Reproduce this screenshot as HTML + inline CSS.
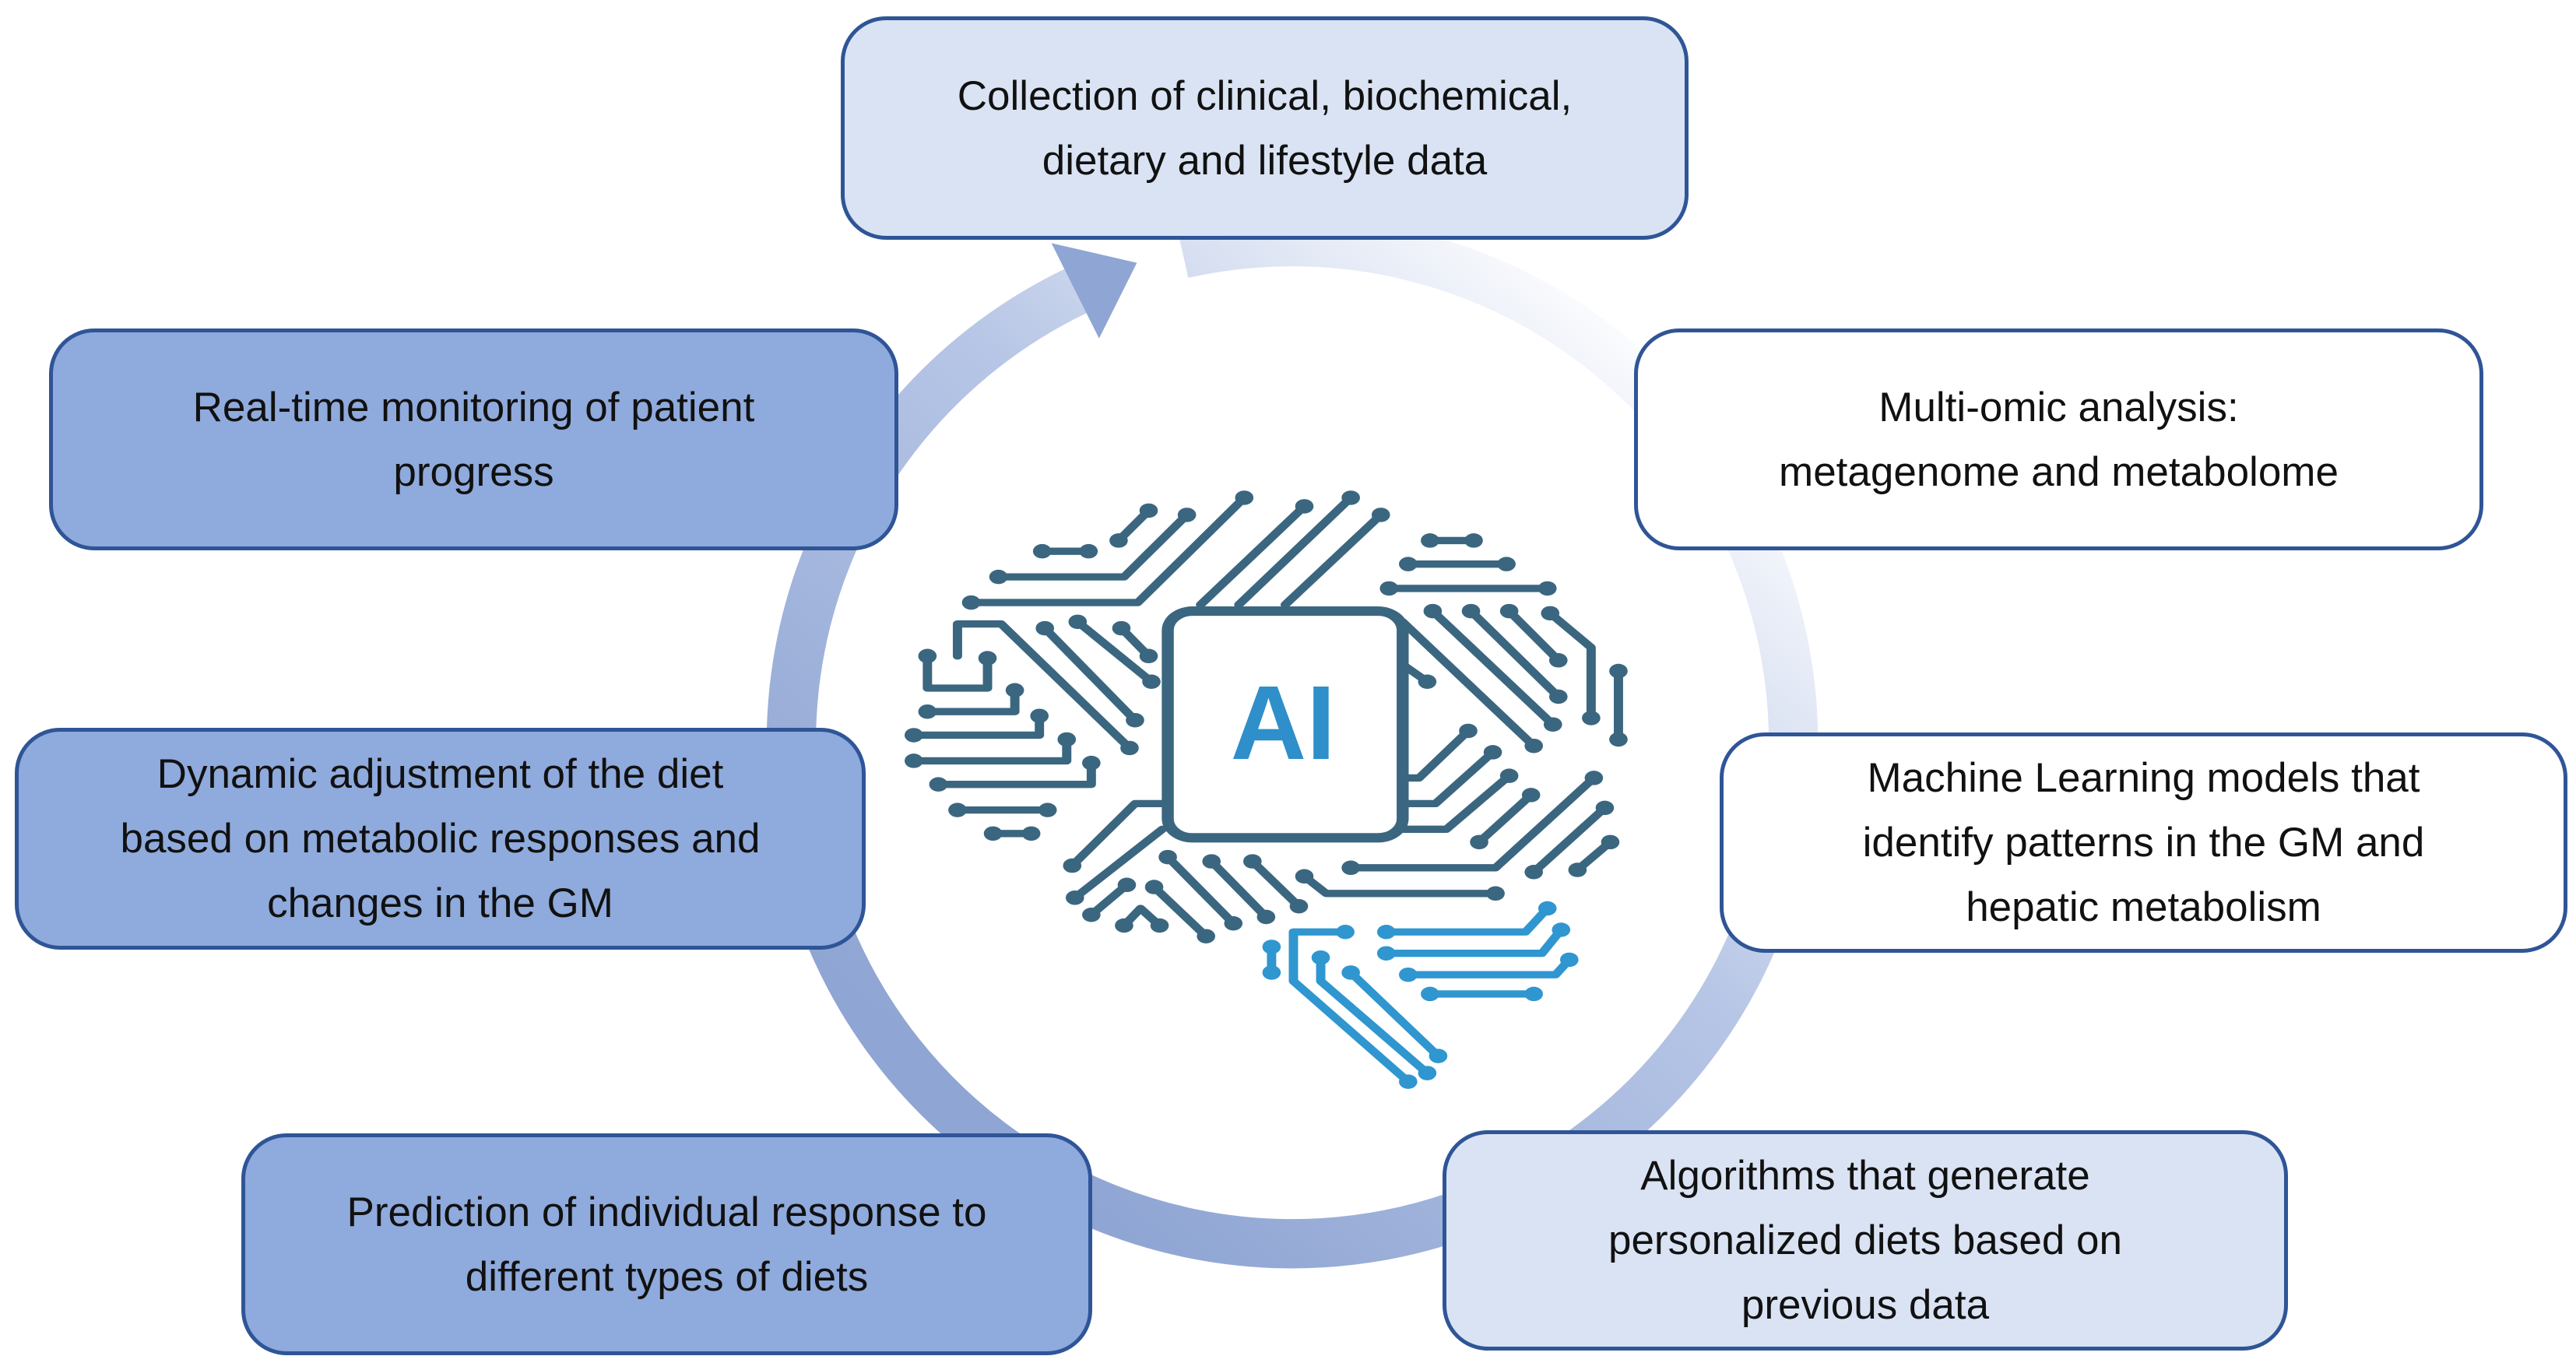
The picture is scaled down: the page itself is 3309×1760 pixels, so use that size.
<!DOCTYPE html>
<html><head><meta charset="utf-8"><style>
html,body{margin:0;padding:0;background:#fff;}
#c{position:relative;width:3309px;height:1760px;overflow:hidden;background:#fff;}
svg.bg{position:absolute;left:0;top:0;}
.b{position:absolute;box-sizing:border-box;border:5px solid #2f5597;border-radius:58px;display:flex;align-items:center;justify-content:center;text-align:center;font-family:"Liberation Sans",sans-serif;font-size:53px;line-height:83px;color:#111;}
.l{background:#dae3f3;}.w{background:#fff;}.d{background:#8faadc;}
</style></head><body><div id="c">
<svg class="bg" width="3309" height="1760" viewBox="0 0 1568 834" preserveAspectRatio="none">
<defs>
<linearGradient id="g" gradientUnits="userSpaceOnUse" x1="980" y1="170" x2="560" y2="640">
<stop offset="0" stop-color="#ffffff"/><stop offset="0.45" stop-color="#b7c6e6"/><stop offset="1" stop-color="#8fa5d3"/></linearGradient>
<marker id="m" viewBox="-10 -10 20 20" markerWidth="2.2" markerHeight="2.2" refX="0" refY="0"><circle r="9" fill="#3b6680"/></marker>
<marker id="mb" viewBox="-10 -10 20 20" markerWidth="2.2" markerHeight="2.2" refX="0" refY="0"><circle r="9" fill="#2f96d0"/></marker>
</defs>
<path d="M 720 154.5 A 305 305 0 1 1 655 177" fill="none" stroke="url(#g)" stroke-width="30"/>
<polygon points="640,148 692,160 669,206" fill="#8fa5d3"/>
<g transform="translate(521.3,290) scale(0.3325,0.2604)" fill="none" stroke-linecap="round" stroke-linejoin="round">
<g stroke="#3b6680" stroke-width="17" marker-start="url(#m)" marker-end="url(#m)">
<polyline points="340,175 425,175"/>
<polyline points="480,150 535,80"/>
<polyline points="260,235 490,235 605,90"/>
<polyline points="210,295 515,295 710,50"/>
<polyline points="1050,150 1130,150"/>
<polyline points="1010,205 1190,205"/>
<polyline points="975,262 1265,262"/>
<polyline points="1055,315 1275,580"/>
<polyline points="1125,315 1285,515"/>
<polyline points="1195,315 1285,430"/>
<polyline points="1270,320 1345,400 1345,565"/>
<polyline points="1395,455 1395,615"/>
<polyline points="1140,855 1235,745"/>
<polyline points="905,915 1170,915 1350,705"/>
<polyline points="1240,925 1370,775"/>
<polyline points="1320,920 1380,855"/>
<polyline points="820,935 860,975 1170,975"/>
<polyline points="570,890 690,1045"/>
<polyline points="650,900 750,1030"/>
<polyline points="725,900 810,1005"/>
<polyline points="545,960 640,1075"/>
<polyline points="490,1050 520,1010 555,1050"/>
<polyline points="430,1025 495,955"/>
<polyline points="130,420 130,495 240,495 240,425"/>
<polyline points="130,550 290,550 290,500"/>
<polyline points="105,605 335,605 335,560"/>
<polyline points="105,665 385,665 385,615"/>
<polyline points="150,720 430,720 430,670"/>
<polyline points="185,780 350,780"/>
<polyline points="250,835 320,835"/>
<polyline points="345,355 510,570"/>
<polyline points="405,340 540,480"/>
<polyline points="485,355 535,420"/>
</g>
<g stroke="#3b6680" stroke-width="17" marker-end="url(#m)">
<polyline points="630,300 820,70"/>
<polyline points="700,300 905,50"/>
<polyline points="785,300 960,90"/>
<polyline points="1000,340 1240,630"/>
<polyline points="1000,440 1045,480"/>
<polyline points="1000,705 1030,705 1120,595"/>
<polyline points="1000,765 1060,765 1165,645"/>
<polyline points="1000,825 1080,825 1195,700"/>
<polyline points="560,825 400,985"/>
<polyline points="560,765 510,765 395,910"/>
<polyline points="185,420 185,345 265,345 500,635"/>
</g>
<rect x="570" y="315" width="430" height="530" rx="45" stroke="#3b6680" stroke-width="22" fill="#fff"/>
<g stroke="#2f96d0" stroke-width="17" marker-start="url(#mb)" marker-end="url(#mb)">
<polyline points="760,1100 760,1160"/>
<polyline points="895,1065 800,1065 800,1180 1010,1415"/>
<polyline points="850,1125 850,1180 1045,1395"/>
<polyline points="905,1160 1065,1355"/>
<polyline points="970,1065 1225,1065 1265,1010"/>
<polyline points="970,1115 1255,1115 1290,1060"/>
<polyline points="1010,1165 1280,1165 1305,1130"/>
<polyline points="1050,1210 1240,1210"/>
</g>
</g>
<text x="781" y="462" text-anchor="middle" font-family="Liberation Sans, sans-serif" font-weight="bold" font-size="64" fill="#2e8fcb">AI</text>
</svg>
<div class="b l" style="left:1080px;top:21px;width:1089px;height:287px;">Collection of clinical, biochemical,<br>dietary and lifestyle data</div>
<div class="b w" style="left:2099px;top:422px;width:1091px;height:285px;">Multi-omic analysis:<br>metagenome and metabolome</div>
<div class="b w" style="left:2209px;top:941px;width:1089px;height:283px;">Machine Learning models that<br>identify patterns in the GM and<br>hepatic metabolism</div>
<div class="b l" style="left:1853px;top:1452px;width:1086px;height:283px;">Algorithms that generate<br>personalized diets based on<br>previous data</div>
<div class="b d" style="left:310px;top:1456px;width:1093px;height:285px;">Prediction of individual response to<br>different types of diets</div>
<div class="b d" style="left:19px;top:935px;width:1093px;height:285px;">Dynamic adjustment of the diet<br>based on metabolic responses and<br>changes in the GM</div>
<div class="b d" style="left:63px;top:422px;width:1091px;height:285px;">Real-time monitoring of patient<br>progress</div>
</div></body></html>
